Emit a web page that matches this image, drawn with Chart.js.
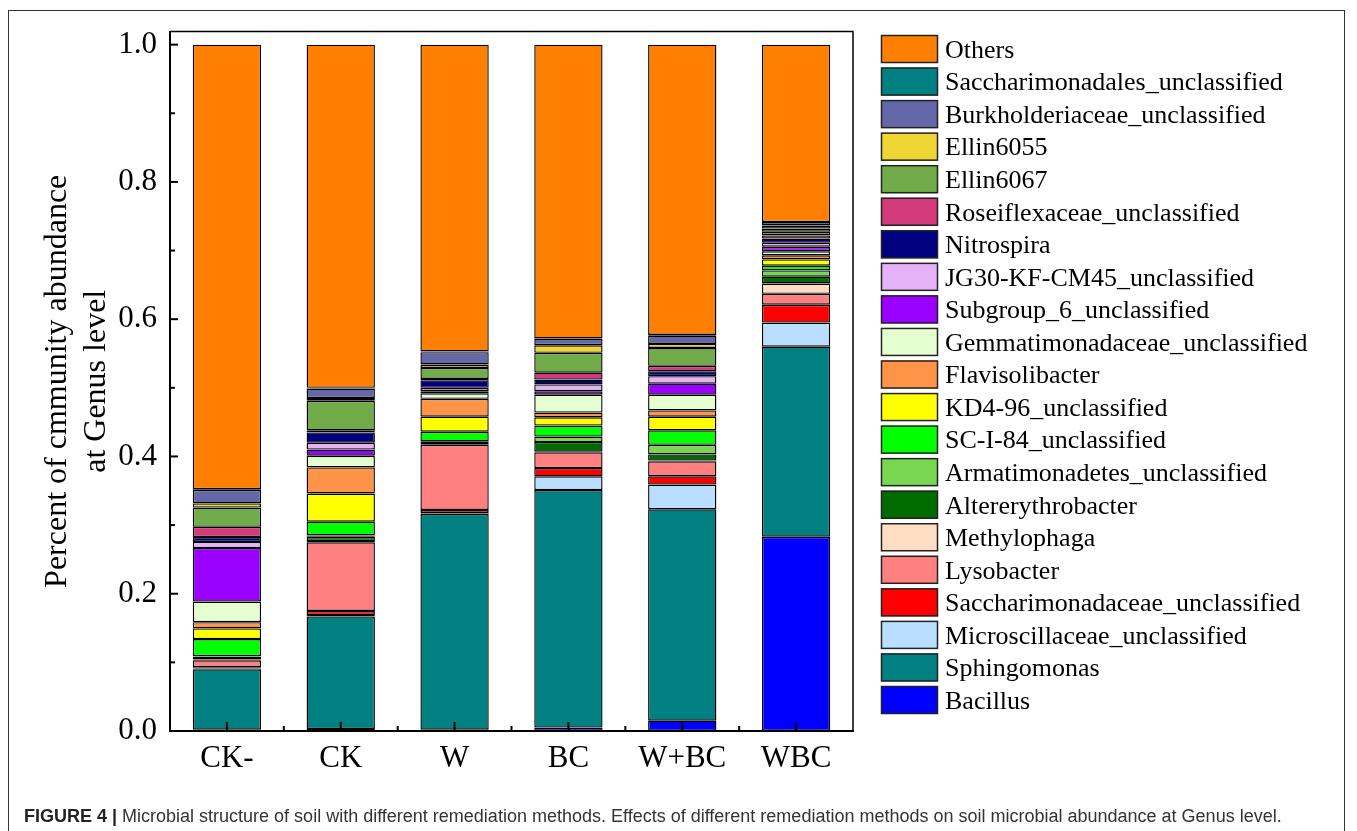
<!DOCTYPE html>
<html>
<head>
<meta charset="utf-8">
<script src="https://cdn.jsdelivr.net/npm/chart.js@4.4.1/dist/chart.umd.min.js"></script>
<style>
  html, body { margin: 0; padding: 0; background: #fff; }
  #wrap { position: relative; width: 1357px; height: 831px; overflow: hidden; background: #fff; }
  #frame { position: absolute; left: 8px; top: 10px; width: 1337px; height: 900px; border: 1.5px solid #333; box-sizing: border-box; }
  #c { position: absolute; left: 0; top: 0; }
  #caption { position: absolute; left: 24px; top: 806px; font-family: 'Liberation Sans', Arial, sans-serif; font-size: 18px; color: #333; white-space: nowrap; }
  #caption b { color: #222; }
</style>
</head>
<body>
<div id="wrap">
  <div id="frame"></div>
  <canvas id="c" width="1357" height="831"></canvas>
  <div id="caption"><b>FIGURE 4 |</b> Microbial structure of soil with different remediation methods. Effects of different remediation methods on soil microbial abundance at Genus level.</div>
</div>
<script>
// Treatments on the x axis
const samples = ['CK-', 'CK', 'W', 'BC', 'W+BC', 'WBC'];
// Major y tick values
const yTicks = [0, 0.2, 0.4, 0.6, 0.8, 1.0];

// Relative abundance of each genus per treatment (stacked bottom to top)
const bacillus           = [0.002, 0.003, 0.002, 0.005, 0.015, 0.283];
const sphingomonas       = [0.088, 0.164, 0.314, 0.346, 0.308, 0.277];
const microscillaceae    = [0.001, 0.002, 0.001, 0.020, 0.036, 0.035];
const saccharimonadaceae = [0.002, 0.006, 0.005, 0.012, 0.012, 0.026];
const lysobacter         = [0.010, 0.100, 0.095, 0.023, 0.022, 0.016];
const methylophaga       = [0.001, 0.002, 0.001, 0.001, 0.001, 0.015];
const altererythrobacter = [0.004, 0.006, 0.003, 0.014, 0.009, 0.010];
const armatimonadetes    = [0.001, 0.002, 0.001, 0.008, 0.014, 0.009];
const scI84              = [0.025, 0.020, 0.014, 0.016, 0.021, 0.007];
const kd496              = [0.0155, 0.041, 0.022, 0.012, 0.020, 0.009];
const flavisolibacter    = [0.009, 0.038, 0.026, 0.007, 0.009, 0.006];
const gemmatimonadaceae  = [0.030, 0.017, 0.008, 0.026, 0.023, 0.006];
const subgroup6          = [0.078, 0.009, 0.003, 0.005, 0.016, 0.0065];
const jg30               = [0.009, 0.010, 0.005, 0.010, 0.011, 0.006];
const nitrospira         = [0.007, 0.015, 0.011, 0.007, 0.007, 0.006];
const roseiflexaceae     = [0.015, 0.003, 0.002, 0.010, 0.008, 0.0045];
const ellin6067          = [0.028, 0.043, 0.016, 0.029, 0.026, 0.0055];
const ellin6055          = [0.006, 0.004, 0.005, 0.011, 0.006, 0.0045];
const burkholderiaceae   = [0.020, 0.014, 0.018, 0.009, 0.012, 0.0045];
const saccharimonadales  = [0.001, 0.001, 0.001, 0.001, 0.001, 0.005];
const others             = [0.6475, 0.500, 0.447, 0.428, 0.423, 0.2585];

const genusNames = [
  'Bacillus', 'Sphingomonas', 'Microscillaceae_unclassified', 'Saccharimonadaceae_unclassified',
  'Lysobacter', 'Methylophaga', 'Altererythrobacter', 'Armatimonadetes_unclassified',
  'SC-I-84_unclassified', 'KD4-96_unclassified', 'Flavisolibacter', 'Gemmatimonadaceae_unclassified',
  'Subgroup_6_unclassified', 'JG30-KF-CM45_unclassified', 'Nitrospira', 'Roseiflexaceae_unclassified',
  'Ellin6067', 'Ellin6055', 'Burkholderiaceae_unclassified', 'Saccharimonadales_unclassified', 'Others'
];
const genusValues = [
  bacillus, sphingomonas, microscillaceae, saccharimonadaceae,
  lysobacter, methylophaga, altererythrobacter, armatimonadetes,
  scI84, kd496, flavisolibacter, gemmatimonadaceae,
  subgroup6, jg30, nitrospira, roseiflexaceae,
  ellin6067, ellin6055, burkholderiaceae, saccharimonadales, others
];
const genusColors = [
  '#0000FF', '#008080', '#B9DEFF', '#FF0000',
  '#FF8080', '#FFDDC2', '#006C00', '#78D650',
  '#00FF00', '#FFFF00', '#FF9448', '#E6FFD0',
  '#9A00FF', '#E6B2F7', '#000080', '#D33A79',
  '#72AC4A', '#EFD634', '#6468A8', '#008080', '#FF8000'
];

const serif = '"Liberation Serif", "Times New Roman", serif';

// Inward tick marks plus the top/right box around the plot
const frameTicks = {
  id: 'frameTicks',
  afterDraw(chart) {
    const { ctx, chartArea: a, scales: { x, y } } = chart;
    ctx.save();
    ctx.strokeStyle = '#000';
    ctx.lineWidth = 1.5;
    ctx.beginPath();
    ctx.moveTo(a.left, a.top);
    ctx.lineTo(a.right, a.top);
    ctx.lineTo(a.right, a.bottom);
    ctx.stroke();

    ctx.lineWidth = 2;
    const yt = y.ticks.map(t => t.value);
    yt.forEach((v, i) => {
      const py = y.getPixelForValue(v);
      ctx.beginPath(); ctx.moveTo(a.left, py); ctx.lineTo(a.left + 8, py); ctx.stroke();
      if (i < yt.length - 1) {
        const pm = y.getPixelForValue((v + yt[i + 1]) / 2);
        ctx.beginPath(); ctx.moveTo(a.left, pm); ctx.lineTo(a.left + 5, pm); ctx.stroke();
      }
    });
    const n = samples.length;
    for (let i = 0; i < n; i++) {
      const px = x.getPixelForTick(i);
      ctx.beginPath(); ctx.moveTo(px, a.bottom); ctx.lineTo(px, a.bottom - 9); ctx.stroke();
      if (i < n - 1) {
        const pm = (px + x.getPixelForTick(i + 1)) / 2;
        ctx.beginPath(); ctx.moveTo(pm, a.bottom); ctx.lineTo(pm, a.bottom - 5); ctx.stroke();
      }
    }
    ctx.restore();
  }
};

// Legend column to the right of the plot, top entry = top of the stack
const sideLegend = {
  id: 'sideLegend',
  afterDraw(chart) {
    const { ctx, chartArea: a } = chart;
    const items = chart.data.datasets.slice().reverse();
    const x0 = a.right + 28, y0 = 35, pitch = 32.55, bw = 57, bh = 28;
    ctx.save();
    ctx.font = '26px ' + serif;
    ctx.textBaseline = 'middle';
    ctx.textAlign = 'left';
    items.forEach((d, i) => {
      const top = y0 + i * pitch;
      ctx.fillStyle = d.backgroundColor;
      ctx.fillRect(x0, top, bw, bh);
      ctx.strokeStyle = '#222';
      ctx.lineWidth = 1.5;
      ctx.strokeRect(x0 + 0.5, top + 0.5, bw - 1, bh - 1);
      ctx.fillStyle = '#000';
      ctx.fillText(d.label, x0 + bw + 7, top + bh / 2 + 2);
    });
    ctx.restore();
  }
};

const datasets = genusNames.map((name, i) => ({
  label: name,
  data: genusValues[i],
  backgroundColor: genusColors[i],
  borderColor: '#000',
  borderWidth: 1.4,
  borderSkipped: false,
  barPercentage: 0.6,
  categoryPercentage: 1.0
}));

new Chart(document.getElementById('c'), {
  type: 'bar',
  data: { labels: samples, datasets },
  plugins: [frameTicks, sideLegend],
  options: {
    responsive: false,
    maintainAspectRatio: false,
    animation: false,
    devicePixelRatio: 1,
    layout: { padding: { top: 29, right: 504, bottom: 30, left: 0 } },
    plugins: { legend: { display: false }, tooltip: { enabled: false } },
    scales: {
      x: {
        stacked: true,
        grid: { display: false, drawTicks: false },
        border: { display: true, color: '#000', width: 2 },
        ticks: { color: '#000', font: { family: serif, size: 31 }, padding: 9 },
        afterFit(s) { s.height = 70; }
      },
      y: {
        stacked: true,
        min: 0,
        max: 1.019,
        grid: { display: false, drawTicks: false },
        border: { display: true, color: '#000', width: 2 },
        afterBuildTicks(s) { s.ticks = yTicks.map(v => ({ value: v })); },
        ticks: { color: '#000', font: { family: serif, size: 31 }, padding: 13, callback: v => Number(v).toFixed(1) },
        title: {
          display: true,
          text: ['Percent of cmmunity abundance', 'at Genus level'],
          color: '#000',
          font: { family: serif, size: 32, lineHeight: 1.22 },
          padding: { top: 38.5, bottom: 0 }
        },
        afterFit(s) { s.width = 170; }
      }
    }
  }
});
</script>
</body>
</html>
